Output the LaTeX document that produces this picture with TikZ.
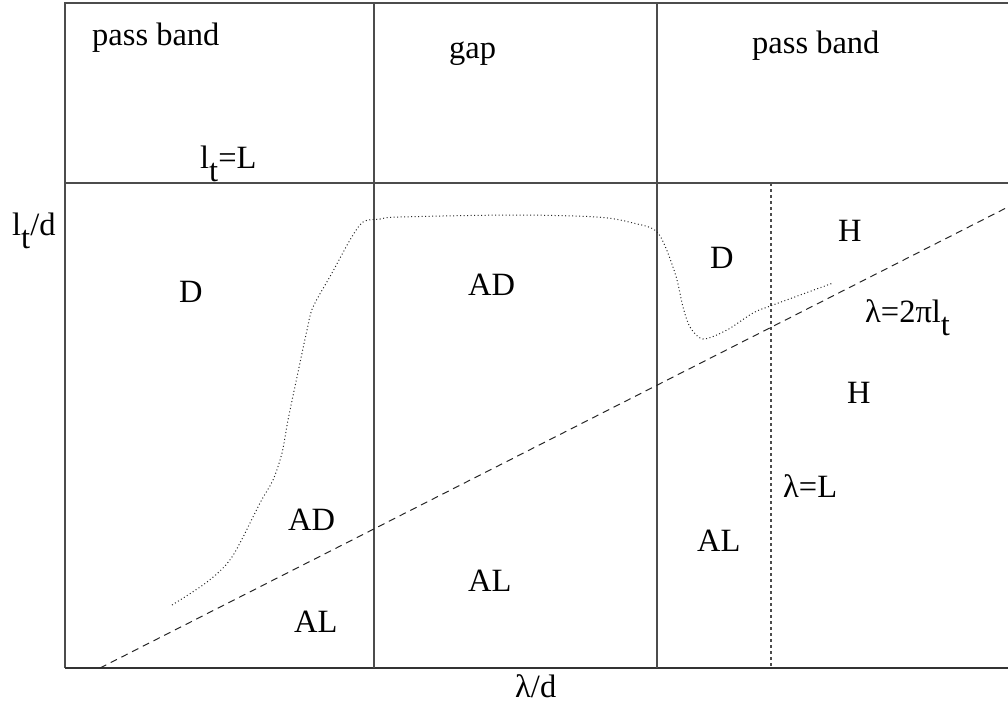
\documentclass[tikz,border=0pt]{standalone}
\usepackage{fontspec}
\setmainfont{Liberation Serif}
\begin{document}
\begin{tikzpicture}[x=1pt,y=-1pt,
  frame/.style={draw=black!70,line width=1.3pt},
  lbl/.style={anchor=base west,inner sep=0pt,font=\fontsize{32.5}{35}\selectfont},
  dashln/.style={draw=black!85,line width=1pt,dash pattern=on 7pt off 5pt},
  dotln/.style={draw=black!85,line width=1pt,dash pattern=on 1pt off 2.5pt},
  vdot/.style={draw=black!70,line width=1.2pt,dash pattern=on 3pt off 3pt}]
\useasboundingbox (0,0) rectangle (1008,707);
% frame
\coordinate (tl) at (65,3);
\coordinate (tr) at (1010,3);
\coordinate (bl) at (65,668);
\coordinate (br) at (1010,668);
\coordinate (ml) at (65,183);
\coordinate (mr) at (1010,183);
\coordinate (v1t) at (374,3);
\coordinate (v1b) at (374,668);
\coordinate (v2t) at (657,3);
\coordinate (v2b) at (657,668);
\coordinate (v3t) at (771,183);
\coordinate (v3b) at (771,668);
\coordinate (ds) at (100,668);
\coordinate (de) at (1008,207);
\draw[frame] (tr) -- (tl) -- (bl);
\draw[frame,line width=1.6pt,draw=black!80] (bl) -- (br);
\draw[frame] (ml) -- (mr);
\draw[frame] (v1t) -- (v1b);
\draw[frame] (v2t) -- (v2b);
\draw[vdot] (v3t) -- (v3b);
\draw[dashln] (ds) -- (de);
\draw[dotln] plot[smooth,tension=0.5] coordinates {(172,605) (207,582) (232,557) (260,503) (273,480) (282,453) (288,420) (297,377) (307,330) (313,307) (332,273) (350,240) (363,222) (380,219) (400,217) (513,215) (597,217) (633,223) (658,233) (675,273) (683,307) (690,327) (703,339) (727,330) (753,313) (773,305) (833,283)};
% labels
\node[lbl] (pb1) at (92,45) {pass band};
\node[lbl] (gap) at (449,58) {gap};
\node[lbl] (pb2) at (752,53) {pass band};
\node[lbl] (ltL) at (200,168) {l\raisebox{-0.4em}{t}=L};
\node[lbl] (ylab) at (12,235) {l\raisebox{-0.4em}{t}/d};
\node[lbl] (D1) at (179,302) {D};
\node[lbl] (AD1) at (468,295) {AD};
\node[lbl] (D2) at (710,268) {D};
\node[lbl] (H1) at (838,241) {H};
\node[lbl] (lam2pi) at (865,322) {λ=2πl\raisebox{-0.4em}{t}};
\node[lbl] (H2) at (847,403) {H};
\node[lbl] (AD2) at (288,530) {AD};
\node[lbl] (AL1) at (294,632) {AL};
\node[lbl] (AL2) at (468,591) {AL};
\node[lbl] (lamL) at (783,497) {λ=L};
\node[lbl] (AL3) at (697,551) {AL};
\node[lbl] (xlab) at (515,697) {λ/d};
\end{tikzpicture}
\end{document}
